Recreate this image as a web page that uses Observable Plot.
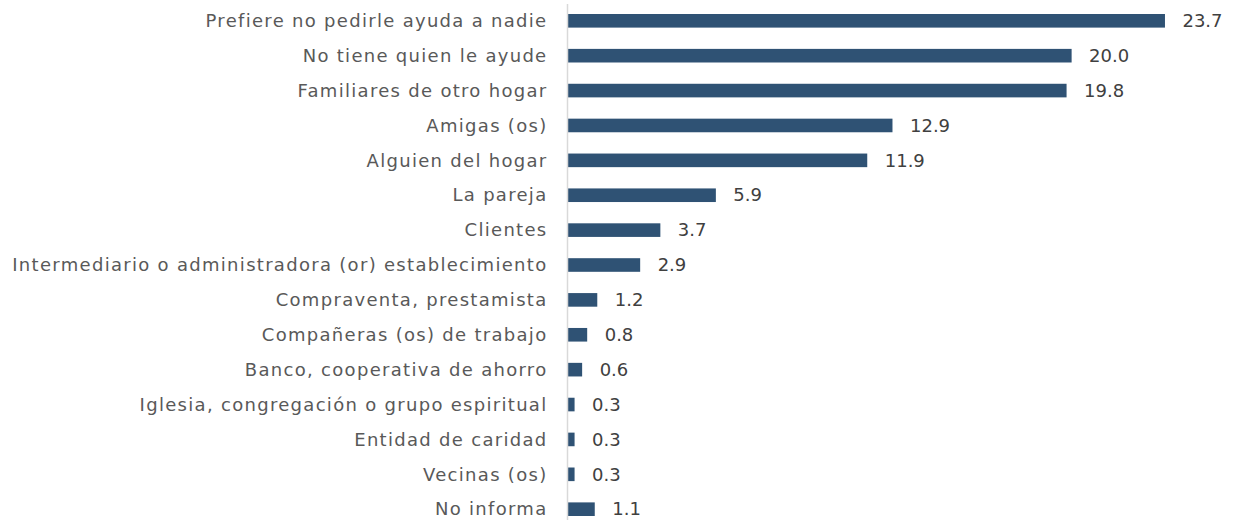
<!DOCTYPE html>
<html>
<head>
<meta charset="utf-8">
<script src="https://cdn.jsdelivr.net/npm/d3@7"></script>
<script src="https://cdn.jsdelivr.net/npm/@observablehq/plot@0.6"></script>
<style>
  html, body { margin: 0; padding: 0; background: #ffffff; }
  #chart { width: 1235px; height: 520px; }
  .ylab text { letter-spacing: 1.3px; }
  .vlab text { letter-spacing: 0px; }
</style>
</head>
<body>
<div id="chart"></div>
<script>
const categories = [
  "Prefiere no pedirle ayuda a nadie",
  "No tiene quien le ayude",
  "Familiares de otro hogar",
  "Amigas (os)",
  "Alguien del hogar",
  "La pareja",
  "Clientes",
  "Intermediario o administradora (or) establecimiento",
  "Compraventa, prestamista",
  "Compañeras (os) de trabajo",
  "Banco, cooperativa de ahorro",
  "Iglesia, congregación o grupo espiritual",
  "Entidad de caridad",
  "Vecinas (os)",
  "No informa"
];
const values = [23.7, 20.0, 19.8, 12.9, 11.9, 5.9, 3.7, 2.9, 1.2, 0.8, 0.6, 0.3, 0.3, 0.3, 1.1];

const data = categories.map((c, i) => ({category: c, value: values[i]}));
const font = "'DejaVu Sans', sans-serif";

const chart = Plot.plot({
  width: 1235,
  height: 520,
  marginLeft: 567,
  marginRight: 12,
  marginTop: 14,
  marginBottom: 4,
  style: {fontFamily: font, fontSize: "18px", background: "#ffffff"},
  x: {domain: [0, 26], axis: null},
  y: {domain: categories, paddingInner: 0.61, paddingOuter: 0, round: false, label: null},
  marks: [
    Plot.axisY({tickSize: 0, tickPadding: 20, fontSize: 18, color: "#595959", label: null, className: "ylab"}),
    Plot.barX(data, {x: "value", y: "category", fill: "#2f5274"}),
    Plot.ruleX([0], {stroke: "#d9d9d9", strokeWidth: 1.5, insetTop: -10, insetBottom: -4}),
    Plot.text(data, {x: "value", y: "category", text: d => d.value.toFixed(1), textAnchor: "start", dx: 17, fill: "#404040", fontSize: 18, className: "vlab"})
  ]
});
document.getElementById("chart").appendChild(chart);
</script>
</body>
</html>
